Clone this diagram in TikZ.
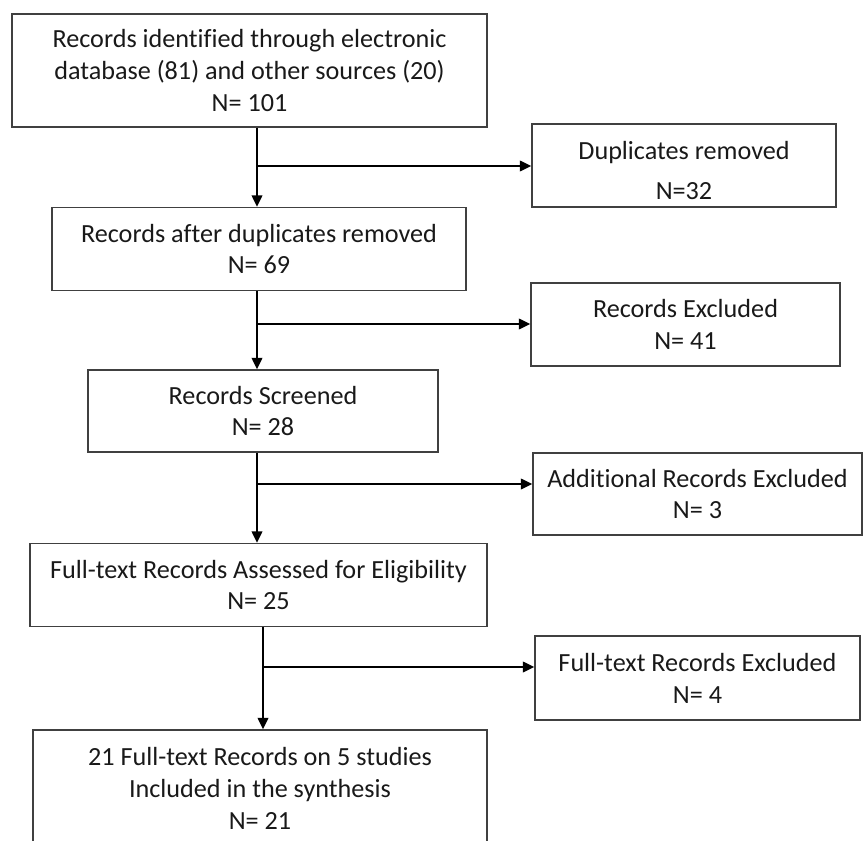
\documentclass[tikz,border=0pt]{standalone}
\usepackage{fontspec}
\setmainfont{Carlito}[Ligatures=NoCommon]
\usetikzlibrary{arrows.meta}

\tikzset{
  stage/.style={draw=black!75, line width=0.8pt, align=center, inner sep=0pt,
    font=\fontsize{14.9}{18.2}\selectfont, text=black!90},
  link/.style={line width=1.1pt, -{Triangle[length=6.5pt, width=6pt]}}
}

\begin{document}
\begin{tikzpicture}[x=0.02cm, y=-0.02cm]
  \useasboundingbox (0, 0) rectangle (865, 841);
  % main column
  \node[stage, minimum width=475*0.02cm, minimum height=113*0.02cm] (rec) at (249.5, 70.5)
    {Records identified through electronic\\database (81) and other sources (20)\\N= 101};
  \node[stage, minimum width=414*0.02cm, minimum height=83*0.02cm] (afterdup) at (259, 249)
    {Records after duplicates removed\\N= 69};
  \node[stage, minimum width=350*0.02cm, minimum height=82*0.02cm] (screen) at (263, 411)
    {Records Screened\\N= 28};
  \node[stage, minimum width=457*0.02cm, minimum height=83*0.02cm] (full) at (258.5, 585)
    {Full-text Records Assessed for Eligibility\\N= 25};
  \node[stage, minimum width=454*0.02cm, minimum height=116*0.02cm] (incl) at (260, 788)
    {21 Full-text Records on 5 studies\\Included in the synthesis\\N= 21};
  % exclusions
  \node[stage, minimum width=304*0.02cm, minimum height=83*0.02cm] (dup) at (684, 165.5)
    {\rule{0pt}{16pt}Duplicates removed\\[5pt]N=32};
  \node[stage, minimum width=309*0.02cm, minimum height=83*0.02cm] (excl) at (685.5, 324.5)
    {Records Excluded\\N= 41};
  \node[stage, minimum width=329*0.02cm, minimum height=82*0.02cm] (addexcl) at (697.5, 494)
    {Additional Records Excluded\\N= 3};
  \node[stage, minimum width=325*0.02cm, minimum height=84*0.02cm] (fullexcl) at (697.5, 678)
    {Full-text Records Excluded\\N= 4};
  % branch points
  \coordinate (b1) at (257, 166);
  \coordinate (b2) at (257, 324);
  \coordinate (b3) at (257, 484);
  \coordinate (b4) at (263, 667);
  \draw[link] (rec.south -| b1) -- (afterdup.north -| b1);
  \draw[link] (b1) -- (b1 -| dup.west);
  \draw[link] (afterdup.south -| b2) -- (screen.north -| b2);
  \draw[link] (b2) -- (b2 -| excl.west);
  \draw[link] (screen.south -| b3) -- (full.north -| b3);
  \draw[link] (b3) -- (b3 -| addexcl.west);
  \draw[link] (full.south -| b4) -- (incl.north -| b4);
  \draw[link] (b4) -- (b4 -| fullexcl.west);
\end{tikzpicture}
\end{document}
